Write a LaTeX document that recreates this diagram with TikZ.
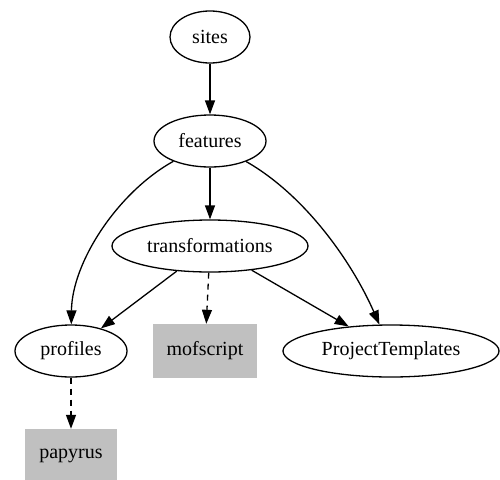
\documentclass[tikz,border=0pt]{standalone}
\usepackage{fontspec}
\setmainfont{Liberation Serif}
\usetikzlibrary{shapes.geometric,arrows.meta}
\begin{document}
\begin{tikzpicture}[x=1pt,y=-1pt,
  every node/.style={font=\fontsize{20}{24}\selectfont, inner sep=0pt},
  oval/.style={ellipse, draw, line width=1.3pt, minimum height=52pt},
  graybox/.style={rectangle, fill={rgb,255:red,192;green,192;blue,192}, minimum height=54pt},
  edge/.style={line width=1.3pt, -{Triangle[length=14pt,width=10pt]}},
  dedge/.style={edge, dash pattern=on 6pt off 5pt}]
\useasboundingbox (0,0) rectangle (500,479);
\node[oval, minimum width=80pt] (sites) at (210,37) {sites};
\node[oval, minimum width=112pt] (features) at (210,141) {features};
\node[oval, minimum width=196pt] (trans) at (210,246) {transformations};
\node[oval, minimum width=112pt] (profiles) at (71,351) {profiles};
\node[graybox, minimum width=104pt] (mof) at (205,351) {mofscript};
\node[oval, minimum width=216pt] (pt) at (391,351) {ProjectTemplates};
\node[graybox, minimum width=92pt] (pap) at (71,456) {papyrus};
\draw[edge] (sites) -- (features);
\draw[edge] (features) -- (trans);
\draw[edge] (features) .. controls (118,192) and (72,262) .. (profiles);
\draw[edge] (features) .. controls (305,195) and (352,262) .. (pt);
\draw[edge] (trans) -- (profiles);
\draw[dedge] (trans) -- (mof);
\draw[edge] (trans) -- (pt);
\draw[dedge] (profiles) -- (pap);
\end{tikzpicture}
\end{document}
